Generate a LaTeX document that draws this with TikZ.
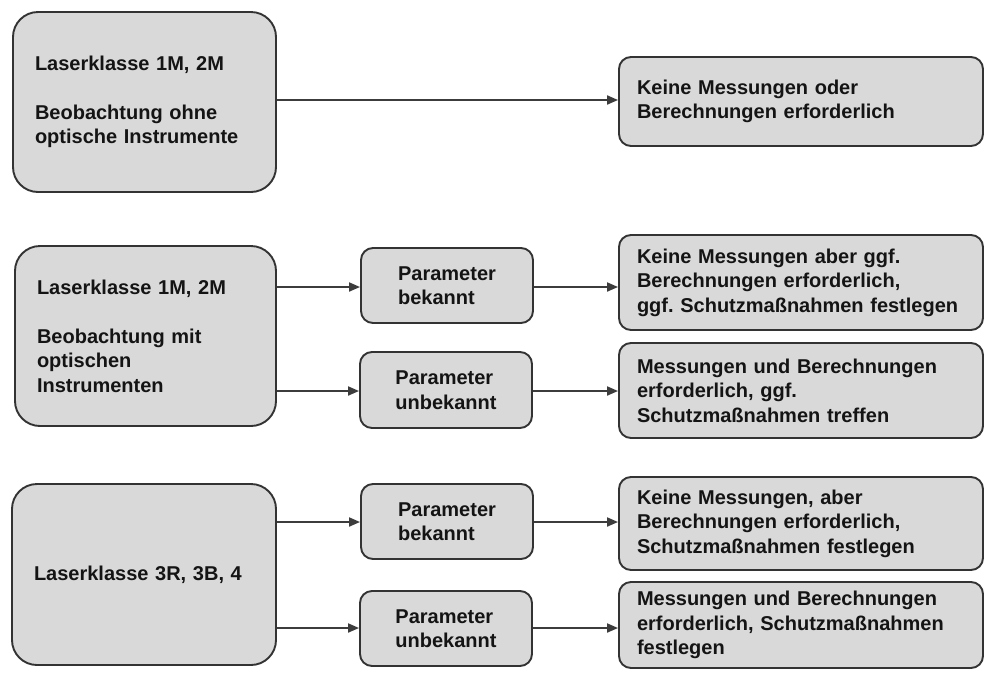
\documentclass[tikz,border=0pt]{standalone}
\usepackage{fontspec}
\setmainfont{Liberation Sans}
\usetikzlibrary{arrows.meta}
\definecolor{boxfill}{HTML}{D9D9D9}
\definecolor{boxline}{HTML}{333333}
\definecolor{arrowcol}{HTML}{3C3C3C}
\definecolor{txt}{HTML}{141414}
\frenchspacing
\hyphenpenalty=10000
\exhyphenpenalty=10000
\tikzset{
  basebox/.style={draw=boxline, fill=boxfill, line width=1.9pt, text=txt,
    font=\fontsize{20}{24.5}\selectfont\bfseries},
  classbox/.style={basebox, rounded corners=25pt, align=left, inner xsep=22pt, inner ysep=0pt},
  parambox/.style={basebox, rounded corners=12pt, align=left, minimum width=172pt, inner sep=0pt},
  resultbox/.style={basebox, rounded corners=12pt, align=left, minimum width=364pt,
    text width=328pt, inner xsep=18pt, inner ysep=0pt},
  flow/.style={draw=arrowcol, line width=1.9pt, -{Triangle[length=11pt,width=9pt]}}
}
\begin{document}
\begin{tikzpicture}[x=1pt,y=-1pt]
\useasboundingbox (0,0) rectangle (985,673);
% class boxes
\node[classbox, minimum width=263pt, minimum height=180pt, text width=219pt] (A1) at (144.5,102)
  {Laserklasse 1M, 2M\\[24.5pt]Beobachtung ohne\\optische Instrumente};
\node[classbox, minimum width=261pt, minimum height=180pt, text width=217pt] (A2) at (145.5,336)
  {Laserklasse 1M, 2M\\[24.5pt]Beobachtung mit\\optischen\\Instrumenten};
\node[classbox, minimum width=264pt, minimum height=181pt, text width=220pt] (A3) at (144,574.5)
  {Laserklasse 3R, 3B, 4};
% parameter boxes
\node[parambox, minimum height=75pt] (PB1) at (447,285.5) {Parameter\\bekannt};
\node[parambox, minimum height=76pt] (PU1) at (446,390) {Parameter\\unbekannt};
\node[parambox, minimum height=75pt] (PB2) at (447,521.5) {Parameter\\bekannt};
\node[parambox, minimum height=75pt] (PU2) at (446,628.5) {Parameter\\unbekannt};
% result boxes
\node[resultbox, minimum height=89pt] (R1) at (801,101.5)
  {Keine Messungen oder\\Berechnungen erforderlich};
\node[resultbox, minimum height=95pt] (R2) at (801,282.5)
  {Keine Messungen aber ggf.\\Berechnungen erforderlich,\\ggf. Schutzmaßnahmen festlegen};
\node[resultbox, minimum height=95pt] (R3) at (801,390.5)
  {Messungen und Berechnungen\\erforderlich, ggf.\\Schutzmaßnahmen treffen};
\node[resultbox, minimum height=93pt] (R4) at (801,523.5)
  {Keine Messungen, aber\\Berechnungen erforderlich,\\Schutzmaßnahmen festlegen};
\node[resultbox, minimum height=86pt] (R5) at (801,625)
  {Messungen und Berechnungen\\erforderlich, Schutzmaßnahmen\\festlegen};
% connectors
\coordinate (y1) at (0,100);
\draw[flow] (A1.east |- y1) -- (R1.west |- y1);
\coordinate (y2) at (0,287);
\coordinate (y3) at (0,391);
\draw[flow] (A2.east |- y2) -- (PB1.west |- y2);
\draw[flow] (A2.east |- y3) -- (PU1.west |- y3);
\draw[flow] (PB1.east |- y2) -- (R2.west |- y2);
\draw[flow] (PU1.east |- y3) -- (R3.west |- y3);
\coordinate (y4) at (0,522);
\coordinate (y5) at (0,628);
\draw[flow] (A3.east |- y4) -- (PB2.west |- y4);
\draw[flow] (A3.east |- y5) -- (PU2.west |- y5);
\draw[flow] (PB2.east |- y4) -- (R4.west |- y4);
\draw[flow] (PU2.east |- y5) -- (R5.west |- y5);
\end{tikzpicture}
\end{document}
